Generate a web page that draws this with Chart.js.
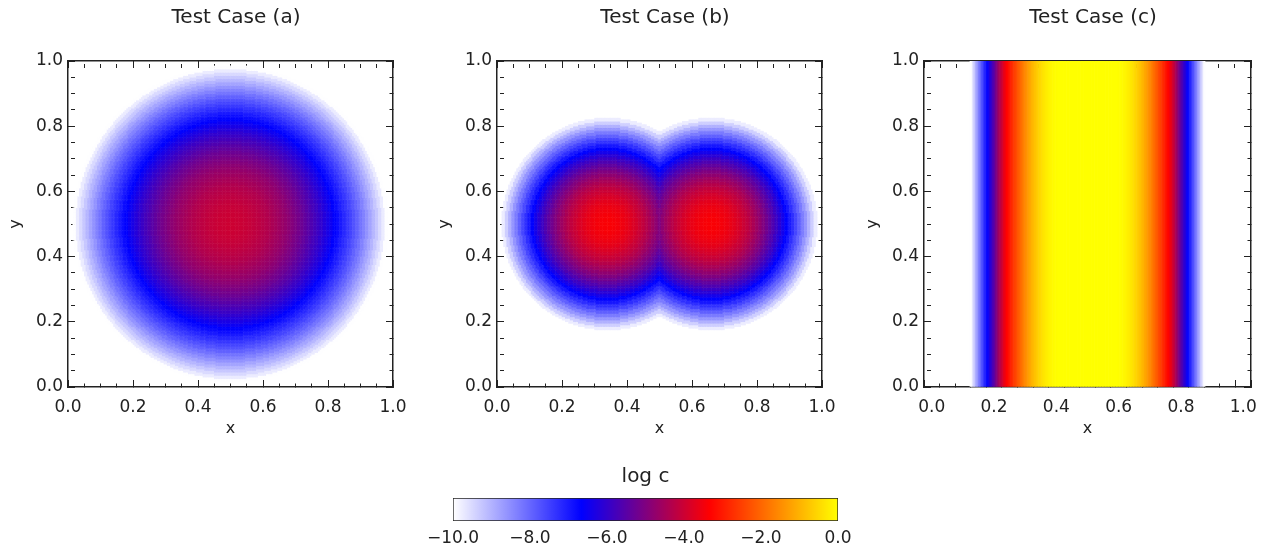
<!DOCTYPE html>
<html>
<head>
<meta charset="utf-8">
<script src="https://cdn.jsdelivr.net/npm/chart.js@4.4.1/dist/chart.umd.min.js"></script>
<style>
  body { margin: 0; background: #fff; }
  #wrap { position: relative; width: 1267px; height: 548px; overflow: hidden; }
  canvas { position: absolute; top: 0; }
</style>
</head>
<body>
<div id="wrap">
  <canvas id="panel-a" width="460" height="450" style="left:6px"></canvas>
  <canvas id="panel-b" width="460" height="450" style="left:435px"></canvas>
  <canvas id="panel-c" width="460" height="450" style="left:863px"></canvas>
  <canvas id="cbar" width="460" height="100" style="left:415px;top:448px"></canvas>
</div>
<script>
const INK = '#222';
const CANVAS_W = 460;

const panelTitles = ['Test Case (a)', 'Test Case (b)', 'Test Case (c)'];
const axisMajorTicks = [0.0, 0.2, 0.4, 0.6, 0.8, 1.0];
const axisMinorStep = 0.05;
const cbarTitle = 'log c';
const cbarRange = [-10, 0];
const cbarTickStep = 2;

// colour table: log c value -> rgb
const cmapStops = [-10, -6.667, -3.333, 0];
const cmapColors = [[255, 255, 255], [0, 0, 255], [255, 0, 0], [255, 255, 0]];

// (a) single blob, log c against distance from the centre, every 0.01
const aCenters = [[0.5, 0.5]];
const aRadStep = 0.01;
const aLogC = [-4.00, -4.00, -4.01, -4.02, -4.04, -4.07, -4.09, -4.13, -4.17, -4.21,
  -4.26, -4.31, -4.37, -4.44, -4.51, -4.59, -4.67, -4.75, -4.84, -4.94,
  -5.04, -5.15, -5.26, -5.38, -5.50, -5.63, -5.76, -5.90, -6.04, -6.19,
  -6.34, -6.50, -6.66, -6.83, -7.01, -7.19, -7.37, -7.56, -7.75, -7.95,
  -8.16, -8.37, -8.59, -8.81, -9.03, -9.27, -9.50, -9.74, -9.99, -10.24, -10.50];

// (b) two blobs, same kind of profile around each centre
const bCenters = [[0.34, 0.5], [0.66, 0.5]];
const bRadStep = 0.01;
const bLogC = [-3.40, -3.41, -3.42, -3.46, -3.50, -3.56, -3.62, -3.70, -3.80, -3.90,
  -4.02, -4.15, -4.29, -4.45, -4.62, -4.80, -4.99, -5.19, -5.41, -5.64,
  -5.88, -6.13, -6.40, -6.68, -6.97, -7.28, -7.59, -7.92, -8.26, -8.61,
  -8.98, -9.36, -9.75, -10.15, -10.57, -11.00];

// (c) vertical band, log c against distance from x = 0.5, every 0.005
const cMidX = 0.5;
const cDistStep = 0.005;
const cLogC = [0, 0, 0, 0, 0, 0, 0, 0, 0, 0,
  0, 0, 0, 0, 0, 0, 0, 0, 0.00, -0.00,
  -0.02, -0.03, -0.05, -0.08, -0.12, -0.16, -0.21, -0.26, -0.32, -0.38,
  -0.45, -0.53, -0.62, -0.71, -0.80, -0.90, -1.01, -1.12, -1.25, -1.37,
  -1.50, -1.64, -1.78, -1.92, -2.07, -2.21, -2.36, -2.51, -2.66, -2.82,
  -2.98, -3.14, -3.30, -3.48, -3.70, -3.95, -4.22, -4.50, -4.80, -5.10,
  -5.42, -5.69, -5.96, -6.23, -6.51, -6.80, -7.09, -7.38, -7.69, -8.00,
  -8.31, -8.63, -8.96, -9.29, -9.63, -9.98, -10.33];

const gridStep = 0.005; // heatmap cell size, data units

Chart.defaults.font.family = "'DejaVu Sans', sans-serif";
Chart.defaults.color = INK;

const isMajor = (v) => axisMajorTicks.some(t => Math.abs(t - v) < 1e-6);

function rgbOf(c) {
  return `rgb(${Math.round(c[0])},${Math.round(c[1])},${Math.round(c[2])})`;
}

function colorFor(v) {
  if (v <= cmapStops[0]) return rgbOf(cmapColors[0]);
  for (let i = 1; i < cmapStops.length; i++) {
    if (v <= cmapStops[i]) {
      const t = (v - cmapStops[i - 1]) / (cmapStops[i] - cmapStops[i - 1]);
      const a = cmapColors[i - 1], b = cmapColors[i];
      return rgbOf([a[0] + (b[0] - a[0]) * t, a[1] + (b[1] - a[1]) * t, a[2] + (b[2] - a[2]) * t]);
    }
  }
  return rgbOf(cmapColors[cmapColors.length - 1]);
}

const profileAt = (profile, step, dist) => {
  const i = Math.round(dist / step);
  return i < profile.length ? profile[i] : null;
};

// cells of a blob field: each cell takes the strongest blob
function blobCells(centers, profile, step) {
  const n = Math.round(1 / gridStep);
  const pts = [], cols = [];
  for (let i = 0; i < n; i++) {
    for (let j = 0; j < n; j++) {
      const x = (i + 0.5) * gridStep, y = (j + 0.5) * gridStep;
      let best = null;
      centers.forEach(c => {
        const v = profileAt(profile, step, Math.hypot(x - c[0], y - c[1]));
        if (v !== null && (best === null || v > best)) best = v;
      });
      if (best === null || best <= cmapStops[0]) continue;
      pts.push({x, y});
      cols.push(colorFor(best));
    }
  }
  return {pts, cols};
}

// full-height strips for the band, mirrored about the middle
function bandStrips() {
  const pts = [], cols = [];
  cLogC.forEach((v, k) => {
    if (v <= cmapStops[0]) return;
    const d = k * cDistStep;
    const xs = k === 0 ? [cMidX] : [cMidX - d, cMidX + d];
    xs.forEach(x => {
      pts.push({x, y: [0, 1]});
      cols.push(colorFor(v));
    });
  });
  return {pts, cols};
}

function cellDataset(cells, plotWidth) {
  const side = plotWidth * gridStep + 0.5;
  return {
    data: cells.pts,
    pointBackgroundColor: cells.cols,
    pointStyle: 'rect',
    pointRadius: side / Math.SQRT2,
    pointBorderWidth: 0,
    pointHoverRadius: 0,
    parsing: false,
    normalized: true
  };
}

function frameAxis(position, size, labels) {
  const horizontal = position === 'top' || position === 'bottom';
  return {
    type: 'linear',
    position,
    min: 0,
    max: 1,
    afterFit: (s) => { if (horizontal) s.height = size; else s.width = size; },
    border: { display: true, color: INK, width: 1.5 },
    grid: {
      drawOnChartArea: false,
      drawTicks: true,
      tickLength: -7,
      tickColor: INK,
      tickWidth: 1,
      // minor ticks: only the first part of the tick line is drawn
      tickBorderDash: (c) => (c.tick && !isMajor(c.tick.value)) ? [4, 40] : []
    },
    ticks: {
      display: labels,
      stepSize: axisMinorStep,
      autoSkip: false,
      maxRotation: 0,
      minRotation: 0,
      padding: horizontal ? 17 : 12,
      color: INK,
      font: { size: 17 },
      callback: (v) => isMajor(v) ? v.toFixed(1) : ''
    },
    title: {
      display: labels,
      text: horizontal ? 'x' : 'y',
      color: INK,
      font: { size: 16 },
      padding: horizontal ? { top: 0, bottom: 12 } : { top: 0, bottom: 0 }
    }
  };
}

function makePanel(id, title, plotLeft, plotWidth, datasets) {
  return new Chart(document.getElementById(id), {
    type: 'scatter',
    data: { datasets },
    options: {
      responsive: false,
      animation: false,
      events: [],
      plugins: {
        legend: { display: false },
        tooltip: { enabled: false },
        title: {
          display: true,
          text: title,
          color: INK,
          font: { size: 20, weight: 'normal' },
          padding: { top: 5.5, bottom: 31.5 }
        }
      },
      scales: {
        x: frameAxis('bottom', 63, true),
        x2: frameAxis('top', 0, false),
        y: frameAxis('left', plotLeft, true),
        y2: frameAxis('right', CANVAS_W - plotLeft - plotWidth, false)
      }
    }
  });
}

const cellsA = blobCells(aCenters, aLogC, aRadStep);
const cellsB = blobCells(bCenters, bLogC, bRadStep);
const strips = bandStrips();

makePanel('panel-a', panelTitles[0], 62, 325, [cellDataset(cellsA, 325)]);
makePanel('panel-b', panelTitles[1], 62, 325, [cellDataset(cellsB, 325)]);
makePanel('panel-c', panelTitles[2], 61, 327, [{
  type: 'bar',
  data: strips.pts,
  backgroundColor: strips.cols,
  borderWidth: 0,
  barPercentage: 1,
  categoryPercentage: 1
}]);

// colour bar
new Chart(document.getElementById('cbar'), {
  type: 'bar',
  data: {
    labels: [cbarTitle],
    datasets: [{
      data: [[cbarRange[0], cbarRange[1]]],
      backgroundColor: (ctx) => {
        const chart = ctx.chart;
        if (!chart.chartArea) return INK;
        const xs = chart.scales.x;
        const g = chart.ctx.createLinearGradient(xs.getPixelForValue(cbarRange[0]), 0, xs.getPixelForValue(cbarRange[1]), 0);
        cmapStops.forEach((v, i) => {
          g.addColorStop((v - cbarRange[0]) / (cbarRange[1] - cbarRange[0]), rgbOf(cmapColors[i]));
        });
        return g;
      },
      borderColor: INK,
      borderWidth: 1,
      borderSkipped: false,
      barPercentage: 1,
      categoryPercentage: 1
    }]
  },
  options: {
    indexAxis: 'y',
    responsive: false,
    animation: false,
    events: [],
    layout: { padding: { left: 38, right: 37 } },
    plugins: {
      legend: { display: false },
      tooltip: { enabled: false },
      title: {
        display: true,
        text: cbarTitle,
        color: INK,
        font: { size: 20, weight: 'normal' },
        padding: { top: 16.5, bottom: 9.5 }
      }
    },
    scales: {
      x: {
        type: 'linear',
        min: cbarRange[0],
        max: cbarRange[1],
        afterFit: (s) => { s.height = 27; },
        grid: { display: false, drawTicks: false },
        border: { display: false },
        ticks: {
          stepSize: cbarTickStep,
          padding: 7,
          color: INK,
          font: { size: 17 },
          maxRotation: 0,
          callback: (v) => v < 0 ? '\u2212' + Math.abs(v).toFixed(1) : v.toFixed(1)
        }
      },
      y: { display: false }
    }
  }
});
</script>
</body>
</html>
